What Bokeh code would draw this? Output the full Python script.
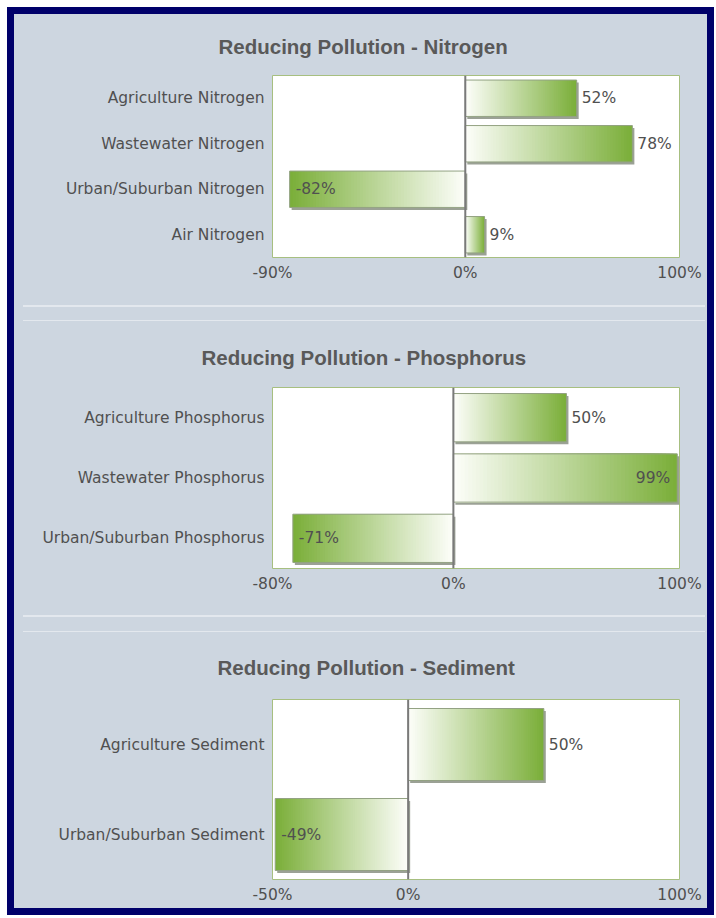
from bokeh.plotting import figure
from bokeh.layouts import column
from bokeh.models import (FactorRange, Range1d, FixedTicker, PrintfTickFormatter,
                          Span, ColumnDataSource, Div)
from bokeh.transform import dodge
from bokeh.embed import file_html
from bokeh.resources import INLINE
from bokeh.core.properties import value

# ---------------- data ----------------
nitrogen_title = "Reducing Pollution - Nitrogen"
nitrogen_cats = ["Agriculture Nitrogen", "Wastewater Nitrogen",
                 "Urban/Suburban Nitrogen", "Air Nitrogen"]
nitrogen_vals = [52, 78, -82, 9]
nitrogen_ticks = [-90, 0, 100]

phosphorus_title = "Reducing Pollution - Phosphorus"
phosphorus_cats = ["Agriculture Phosphorus", "Wastewater Phosphorus",
                   "Urban/Suburban Phosphorus"]
phosphorus_vals = [50, 99, -71]
phosphorus_ticks = [-80, 0, 100]

sediment_title = "Reducing Pollution - Sediment"
sediment_cats = ["Agriculture Sediment", "Urban/Suburban Sediment"]
sediment_vals = [50, -49]
sediment_ticks = [-50, 0, 100]

# ---------------- style ----------------
BG = "#cdd6e0"
NAVY = "#00006a"
TXT = "#505050"
TITLE_C = "#595959"
SEP_C = "#e3e8ee"
FRAME_C = "#a7bf80"
ZERO_C = "#7a7a7a"
C_START = (253, 254, 250)
C_END = (122, 174, 56)
FONT = "DejaVu Sans"
FSIZE = "15.5px"
W = 693


def lerp(c0, c1, t):
    return "#%02x%02x%02x" % tuple(int(round(a + (b - a) * t)) for a, b in zip(c0, c1))


def make_chart(title, cats, vals, ticks, height, b_top, b_bottom, b_left,
               t_offset, t_standoff):
    b_right = 28
    fw = W - b_left - b_right
    fh = height - b_top - b_bottom
    band_px = fh / len(cats)
    px_unit = (ticks[-1] - ticks[0]) / fw

    p = figure(width=W, height=height, title=title,
               y_range=FactorRange(factors=list(reversed(cats))),
               x_range=Range1d(ticks[0], ticks[-1]),
               output_backend="svg", toolbar_location=None,
               min_border_left=b_left, min_border_right=b_right,
               min_border_top=b_top, min_border_bottom=b_bottom)
    p.background_fill_color = "white"
    p.border_fill_color = BG
    p.outline_line_color = FRAME_C
    p.outline_line_width = 1
    p.xgrid.visible = False
    p.ygrid.visible = False

    p.title.align = "left"
    p.title.offset = t_offset
    p.title.text_font = "Liberation Sans"
    p.title.text_font_style = "bold"
    p.title.text_font_size = "20.5px"
    p.title.text_color = TITLE_C
    p.title.standoff = t_standoff

    # gradient: nested bars, longest (darkest) first, shorter lighter on top
    K = 60
    s_cat, s_l, s_r, s_c = [], [], [], []
    for c, v in zip(cats, vals):
        for i in range(K):
            e = v * (K - i) / K
            s_cat.append(c)
            s_l.append(min(0, e))
            s_r.append(max(0, e))
            s_c.append(lerp(C_START, C_END, (K - i - 0.5) / K))
    slices = ColumnDataSource(dict(cat=s_cat, left=s_l, right=s_r, color=s_c))

    dx = 2.0 * px_unit
    dy = 2.5 / band_px
    bars = ColumnDataSource(dict(
        cat=cats,
        left=[min(0, v) for v in vals],
        right=[max(0, v) for v in vals],
        sleft=[min(0, v) + dx for v in vals],
        sright=[max(0, v) + dx for v in vals],
    ))
    h = 0.8
    # shadow
    p.hbar(y=dodge("cat", -dy, range=p.y_range), left="sleft", right="sright",
           height=h, source=bars, fill_color="#7a8272", fill_alpha=0.75,
           line_color=None)
    # gradient body
    p.hbar(y="cat", left="left", right="right", height=h, source=slices,
           fill_color="color", line_color=None)
    # outline
    p.hbar(y="cat", left="left", right="right", height=h, source=bars,
           fill_color=None, line_color="#93a283", line_width=1)

    p.add_layout(Span(location=0, dimension="height", line_color=ZERO_C,
                      line_width=2))

    # value labels
    xmax = ticks[-1]
    aligns, offs = [], []
    for v in vals:
        if v >= 0 and v / xmax <= 0.9:
            aligns.append("left"); offs.append(5)
        elif v >= 0:
            aligns.append("right"); offs.append(-7)
        else:
            aligns.append("left"); offs.append(6)
    labels = ColumnDataSource(dict(cat=cats, x=vals,
                                   txt=["%d%%" % v for v in vals],
                                   align=aligns, off=offs))
    p.text(x="x", y="cat", text="txt", source=labels, x_offset="off",
           text_align="align", text_baseline="middle",
           text_font=value(FONT), text_font_size=FSIZE, text_color=TXT)

    # axes
    p.xaxis.ticker = FixedTicker(ticks=ticks)
    p.xaxis.formatter = PrintfTickFormatter(format="%d%%")
    for ax in (p.xaxis, p.yaxis):
        ax.axis_line_color = None
        ax.major_tick_line_color = None
        ax.minor_tick_line_color = None
        ax.major_tick_out = 0
        ax.major_tick_in = 0
        ax.major_label_text_font = FONT
        ax.major_label_text_font_size = FSIZE
        ax.major_label_text_color = TXT
    p.yaxis.major_label_standoff = 8
    p.xaxis.major_label_standoff = 6
    return p


def make_sep(height, gap):
    line = ('<div style="width:%dpx;height:1.5px;background:%s;'
            'margin:0 0 0 9px;"></div>') % (W - 11, SEP_C)
    html = ('<div style="width:%dpx;height:%dpx;background:%s;padding-top:1px;'
            'box-sizing:border-box;">%s<div style="height:%dpx"></div>%s</div>'
            % (W, height, BG, line, gap, line))
    return Div(text=html, width=W, height=height,
               styles={"background-color": BG, "margin": "0", "padding": "0"})


p1 = make_chart(nitrogen_title, nitrogen_cats, nitrogen_vals, nitrogen_ticks,
                290, 61, 47, 258, -54, 36)
s1 = make_sep(17, 13)
p2 = make_chart(phosphorus_title, phosphorus_cats, phosphorus_vals,
                phosphorus_ticks, 293, 66, 46, 258, -71, 38)
s2 = make_sep(18, 14)
p3 = make_chart(sediment_title, sediment_cats, sediment_vals, sediment_ticks,
                276, 67, 29, 255, -55, 42)

layout = column(p1, s1, p2, s2, p3, spacing=0,
                styles={"border": "7px solid " + NAVY,
                        "margin": "7px 0 0 7px",
                        "background-color": BG})

open("out.html", "w").write(file_html(layout, INLINE))
